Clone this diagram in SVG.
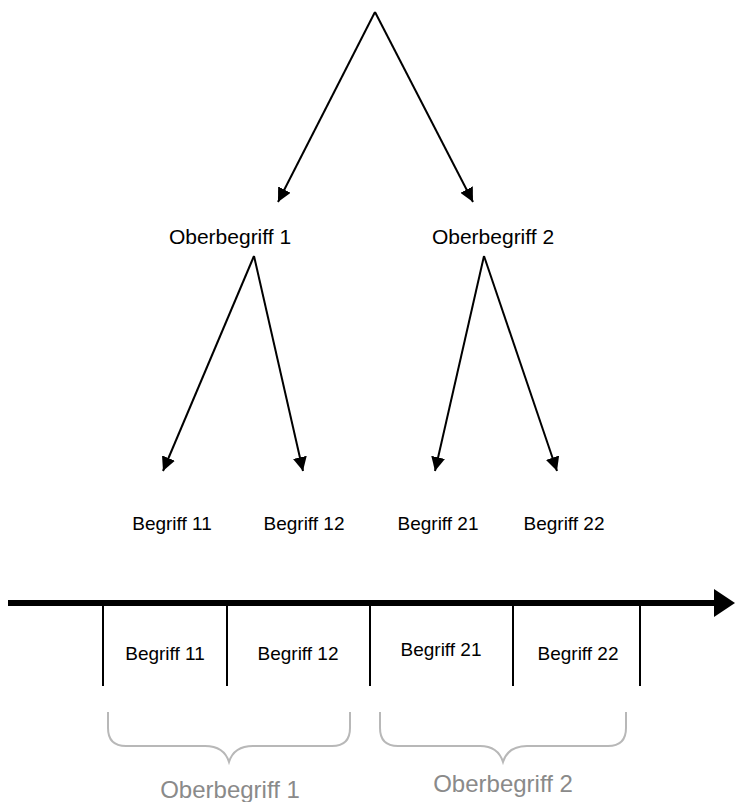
<svg xmlns="http://www.w3.org/2000/svg" width="735" height="802" viewBox="0 0 735 802">
<style>
.t{font-family:"Liberation Sans",Arial,sans-serif;fill:#000;text-anchor:middle}
.big{font-size:21px}
.sm{font-size:19px}
.lab{font-size:24px;fill:#8a8a8a}
.arr{stroke:#000;stroke-width:2;fill:none;marker-end:url(#ah)}
.tick{stroke:#000;stroke-width:2}
.brace{stroke:#b8b8b8;stroke-width:2;fill:none}
</style>
<defs>
<marker id="ah" viewBox="0 0 10 10" refX="10" refY="5" markerWidth="7" markerHeight="7" markerUnits="strokeWidth" orient="auto">
<path d="M0,0 L10,5 L0,10 z" fill="#000"/>
</marker>
</defs>
<rect width="735" height="802" fill="#fff"/>
<g id="connectors">
<line class="arr" x1="375" y1="12" x2="278" y2="202"/>
<line class="arr" x1="375" y1="12" x2="473" y2="202"/>
<line class="arr" x1="254" y1="256" x2="163" y2="471"/>
<line class="arr" x1="254" y1="256" x2="303" y2="471"/>
<line class="arr" x1="484" y1="256" x2="435" y2="471"/>
<line class="arr" x1="484" y1="256" x2="557" y2="471"/>
</g>
<g id="ober1"><text class="t big" x="230" y="244">Oberbegriff 1</text></g>
<g id="ober2"><text class="t big" x="493" y="244">Oberbegriff 2</text></g>
<g id="b11"><text class="t sm" x="172" y="530">Begriff 11</text></g>
<g id="b12"><text class="t sm" x="304" y="530">Begriff 12</text></g>
<g id="b21"><text class="t sm" x="438" y="530">Begriff 21</text></g>
<g id="b22"><text class="t sm" x="564" y="530">Begriff 22</text></g>
<g id="timeline">
<line x1="8" y1="603" x2="716" y2="603" stroke="#000" stroke-width="6"/>
<path d="M714,589 L735,603 L714,617 z" fill="#000"/>
<line class="tick" x1="103" y1="603" x2="103" y2="686"/>
<line class="tick" x1="227" y1="603" x2="227" y2="686"/>
<line class="tick" x1="370" y1="603" x2="370" y2="686"/>
<line class="tick" x1="513" y1="603" x2="513" y2="686"/>
<line class="tick" x1="640" y1="603" x2="640" y2="686"/>
</g>
<g id="tb11"><text class="t sm" x="165" y="660">Begriff 11</text></g>
<g id="tb12"><text class="t sm" x="298" y="660">Begriff 12</text></g>
<g id="tb21"><text class="t sm" x="441" y="656">Begriff 21</text></g>
<g id="tb22"><text class="t sm" x="578" y="660">Begriff 22</text></g>
<g id="brace1">
<path class="brace" d="M108,712 V728 Q108,746 126,746 H205 Q224,746 229,762 Q234,746 253,746 H332 Q350,746 350,728 V712"/>
</g>
<g id="brace2">
<path class="brace" d="M380,712 V728 Q380,746 398,746 H480 Q498,746 503,762 Q508,746 527,746 H608 Q626,746 626,728 V712"/>
</g>
<g id="lab1"><text class="t lab" x="230" y="798">Oberbegriff 1</text></g>
<g id="lab2"><text class="t lab" x="503" y="792">Oberbegriff 2</text></g>
</svg>
